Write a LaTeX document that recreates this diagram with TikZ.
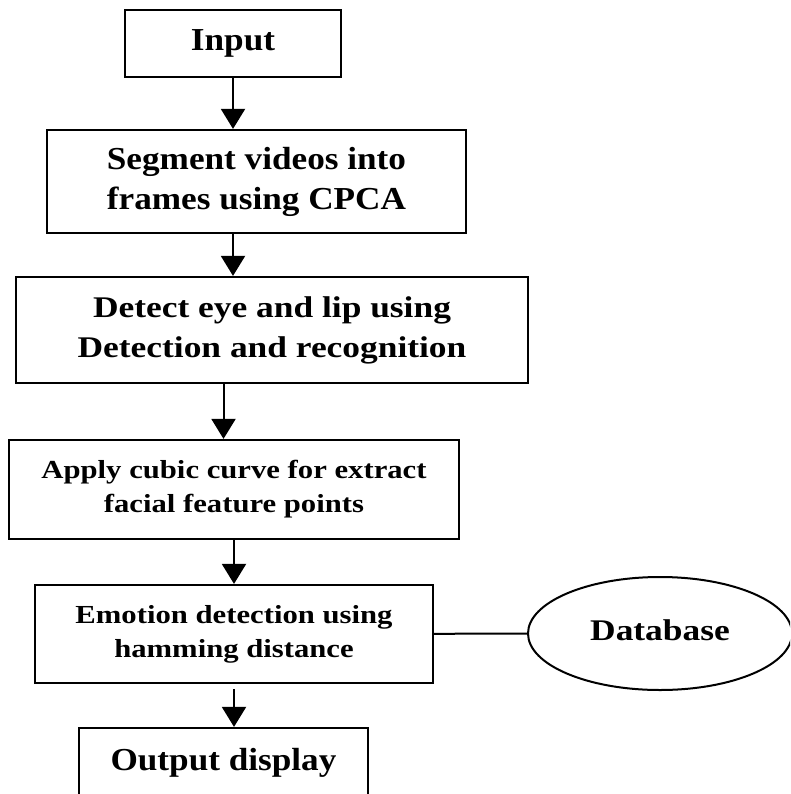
\documentclass[tikz,border=0pt]{standalone}
\usepackage{fontspec}
\setmainfont{Liberation Serif}
\newfontfamily\widefont[FakeStretch=1.1]{Liberation Serif}
\newfontfamily\widerfont[FakeStretch=1.18]{Liberation Serif}
\usetikzlibrary{arrows.meta,shapes.geometric}

\begin{document}
\begin{tikzpicture}[x=1pt, y=-1pt,
  box/.style={rectangle, draw, line width=2.2pt, align=center, inner sep=0pt},
  big/.style={font=\widefont\bfseries\fontsize{32}{40}\selectfont},
  mid/.style={font=\widerfont\bfseries\fontsize{30}{40}\selectfont},
  small/.style={font=\widerfont\bfseries\fontsize{26}{34}\selectfont},
  arrow/.style={-{Triangle[width=24pt,length=20pt]}, line width=2pt}
]
\clip (0,0) rectangle (790,794);
\node[box, big, minimum width=216pt, minimum height=67pt] (input) at (233,43.5) {Input};
\node[box, big, minimum width=419pt, minimum height=103pt] (seg) at (256.5,181.5) {Segment videos into\\frames using CPCA};
\node[box, mid, minimum width=512pt, minimum height=106pt] (detect) at (272,330) {Detect eye and lip using\\Detection and recognition};
\node[box, small, minimum width=450pt, minimum height=99pt] (apply) at (234,489.5) {Apply cubic curve for extract\\facial feature points};
\node[box, small, minimum width=398pt, minimum height=98pt] (emotion) at (234,634) {Emotion detection using\\hamming distance};
\node[ellipse, draw, line width=2pt, mid, minimum width=264pt, minimum height=113pt] (db) at (660,633.5) {\raisebox{7pt}{Database}};
\node[box, big, minimum width=289pt, minimum height=70pt] (output) at (223.5,763) {Output display};

\draw[arrow] (input) -- (input |- seg.north);
\draw[arrow] (seg.south -| input) -- (detect.north -| input);
\draw[arrow] (detect.south -| output) -- (apply.north -| output);
\draw[arrow] (apply) -- (emotion);
\draw[arrow] ([yshift=-5pt]emotion.south) -- (emotion.south |- output.north);
\draw[line width=2pt] (emotion) -- (db);
\end{tikzpicture}
\end{document}
